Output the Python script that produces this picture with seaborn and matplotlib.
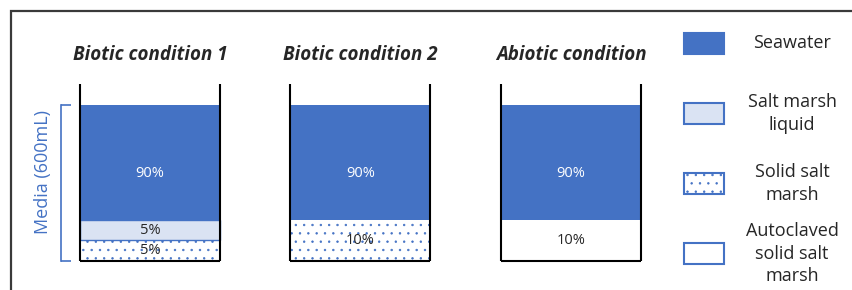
"""Schematic of the three incubation media as stacked container bars."""

import numpy as np
import pandas as pd
import matplotlib
matplotlib.use("Agg")
import matplotlib.pyplot as plt
from matplotlib.patches import Rectangle
import seaborn as sns

# ---- data -------------------------------------------------------------
conditions = ["Biotic condition 1", "Biotic condition 2", "Abiotic condition"]
components = ["Seawater", "Salt marsh liquid", "Solid salt marsh",
              "Autoclaved solid salt marsh"]
legend_labels = ["Seawater", "Salt marsh\nliquid", "Solid salt\nmarsh",
                 "Autoclaved\nsolid salt\nmarsh"]

seawater = [90, 90, 90]
salt_marsh_liquid = [5, 0, 0]
solid_salt_marsh = [5, 10, 0]
autoclaved_solid = [0, 0, 10]

media_label = "Media (600mL)"

# stacking order, bottom -> top
stack_order = ["Solid salt marsh", "Autoclaved solid salt marsh",
               "Salt marsh liquid", "Seawater"]

BLUE = "#4472C4"
LIGHT = "#DAE3F3"
DARK = "#262626"

styles = {
    "Seawater": dict(facecolor=BLUE, edgecolor=BLUE, linewidth=0),
    "Salt marsh liquid": dict(facecolor=LIGHT, edgecolor=BLUE, linewidth=1.0),
    "Solid salt marsh": dict(facecolor="white", edgecolor=BLUE, linewidth=0, hatch=".."),
    "Autoclaved solid salt marsh": dict(facecolor="white", edgecolor="white", linewidth=0),
}
text_colors = {"Seawater": "white"}
label_frac = {"Seawater": 0.4}

df = pd.DataFrame({
    "condition": conditions,
    "Seawater": seawater,
    "Salt marsh liquid": salt_marsh_liquid,
    "Solid salt marsh": solid_salt_marsh,
    "Autoclaved solid salt marsh": autoclaved_solid,
})

# the schematic gives the bottom 10 % more room than a linear scale would
BREAK = 10.0
BASE_SHARE = 26.45


def fwd(y):
    y = np.asarray(y, dtype=float)
    return np.where(y <= BREAK, y * BASE_SHARE / BREAK,
                    BASE_SHARE + (y - BREAK) * (100 - BASE_SHARE) / (100 - BREAK))


def inv(v):
    v = np.asarray(v, dtype=float)
    return np.where(v <= BASE_SHARE, v * BREAK / BASE_SHARE,
                    BREAK + (v - BASE_SHARE) * (100 - BREAK) / (100 - BASE_SHARE))


sns.set_theme(style="white")
plt.rcParams["font.family"] = ["Open Sans", "DejaVu Sans"]
plt.rcParams["hatch.linewidth"] = 0.5

fig = plt.figure(figsize=(8.52, 2.9), dpi=100)
ax = fig.add_axes([30 / 852, 29 / 290, 630 / 852, 177 / 290])
ax.set_yscale("function", functions=(fwd, inv))

x = np.arange(len(conditions))
width = 0.665
bottom = np.zeros(len(conditions))
for comp in stack_order:
    vals = df[comp].to_numpy(dtype=float)
    mask = vals > 0
    ax.bar(x[mask], vals[mask], width=width, bottom=bottom[mask], **styles[comp])
    for xi, b, v in zip(x[mask], bottom[mask], vals[mask]):
        ax.text(xi, b + v * label_frac.get(comp, 0.5), f"{v:.0f}%",
                ha="center", va="center", fontsize=10.5,
                color=text_colors.get(comp, DARK))
    bottom += vals

ax.set_xlim(-0.570, 2.423)
ax.set_ylim(0, 116.5)

# container walls
ax.vlines(np.concatenate([x - width / 2, x + width / 2]), 0, 116.5,
          color="black", linewidth=1.5, clip_on=False)
ax.hlines(np.zeros(len(x)), x - width / 2, x + width / 2,
          color="black", linewidth=1.5, clip_on=False)

# condition names on top
ax.xaxis.tick_top()
ax.set_xticks(x, labels=conditions, fontsize=13.5, fontweight="bold",
              fontstyle="italic", color=DARK)
ax.tick_params(axis="x", length=0, pad=14)

# left spine as the "Media" bracket
for side in ["top", "right", "bottom"]:
    ax.spines[side].set_visible(False)
ax.spines["left"].set_position(("data", -0.4227))
ax.spines["left"].set_bounds(0, 100)
ax.spines["left"].set_color(BLUE)
ax.spines["left"].set_linewidth(1.2)
ax.set_yticks([0, 100], labels=["", ""])
ax.yaxis.set_minor_locator(matplotlib.ticker.NullLocator())
ax.tick_params(axis="y", left=True, direction="in", length=7, width=1.2, color=BLUE)
ax.set_ylabel(media_label, color=BLUE, fontsize=13, labelpad=3)
ax.set_xlabel("")

# legend panel
lax = fig.add_axes([660 / 852, 0, 192 / 852, 1])
lax.set_xlim(0, 192)
lax.set_ylim(3.52, -0.62)
lax.axis("off")
legend_styles = {
    "Seawater": dict(facecolor=BLUE),
    "Salt marsh liquid": dict(facecolor=LIGHT),
    "Solid salt marsh": dict(facecolor="white", hatch=".."),
    "Autoclaved solid salt marsh": dict(facecolor="white"),
}
for i, (comp, lab) in enumerate(zip(components, legend_labels)):
    lax.add_patch(Rectangle((24, i - 0.15), 40, 0.3, edgecolor=BLUE,
                            linewidth=1.5, **legend_styles[comp]))
    lax.text(132, i, lab, ha="center", va="center", multialignment="center",
             fontsize=13, color=DARK, linespacing=1.35)

# outer frame (only top and left edges fall inside the image)
fig.patches.append(Rectangle((10.5 / 852, -0.1), 1.2, 1.1 - 10.5 / 290,
                             transform=fig.transFigure, fill=False,
                             edgecolor="#3a3a3a", linewidth=1.6))

fig.savefig("out.png", dpi=100)
plt.close(fig)
